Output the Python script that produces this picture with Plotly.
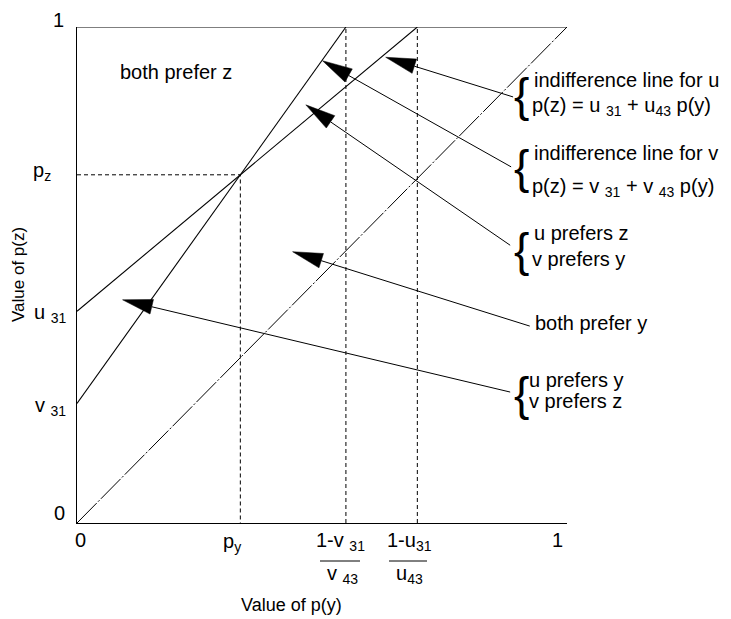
import plotly.graph_objects as go
import math

# Parameters of the two indifference lines
u31, u43 = 0.427, 0.825
v31, v43 = 0.241, 1.383

py = (u31 - v31) / (v43 - u43)
pz = u31 + u43 * py
xu = (1 - u31) / u43
xv = (1 - v31) / v43

# Arrow annotations (head -> tail, data coordinates)
arrow_head_x = [0.630, 0.501, 0.467, 0.440, 0.093]
arrow_head_y = [0.939, 0.932, 0.843, 0.547, 0.450]
arrow_tail_x = [0.890, 0.886, 0.884, 0.924, 0.884]
arrow_tail_y = [0.859, 0.718, 0.560, 0.397, 0.264]

FONT = "Liberation Sans, Arial, Helvetica, sans-serif"
W, H = 490.0, 496.0  # plot area in pixels
ML, MT = 77, 27       # position of the plot area in the window
OFF = 8               # page body margin

def px_to_x(px):
    return (px - ML) / W

def px_to_y(py_):
    return (MT + H - py_) / H

fig = go.Figure()
line_style = dict(color="black", width=1.1)
dash_style = dict(color="black", width=1, dash="4px,3px")

# indifference lines
fig.add_trace(go.Scatter(x=[0, xu], y=[u31, 1], mode="lines", line=line_style))
fig.add_trace(go.Scatter(x=[0, xv], y=[v31, 1], mode="lines", line=line_style))
# diagonal p(z) = p(y)
fig.add_trace(go.Scatter(x=[0, 1], y=[0, 1], mode="lines",
                         line=dict(color="black", width=1, dash="28px,2px,2px,2px")))
# top border
fig.add_trace(go.Scatter(x=[0, 1], y=[1, 1], mode="lines", line=line_style))
# dashed guide lines
fig.add_trace(go.Scatter(x=[0, py, py], y=[pz, pz, 0], mode="lines", line=dash_style))
fig.add_trace(go.Scatter(x=[xv, xv], y=[0, 1], mode="lines", line=dash_style))
fig.add_trace(go.Scatter(x=[xu, xu], y=[0, 1], mode="lines", line=dash_style))

# arrows: line + filled triangular head
L, HW = 30.0, 7.5
for hx, hy, tx, ty in zip(arrow_head_x, arrow_head_y, arrow_tail_x, arrow_tail_y):
    dx = (tx - hx) * W
    dy = -(ty - hy) * H
    n = math.hypot(dx, dy)
    ux, uy = dx / n, dy / n
    bx, by = ux * L, uy * L
    c1 = (bx - uy * HW, by + ux * HW)
    c2 = (bx + uy * HW, by - ux * HW)
    tri_x = [hx, hx + c1[0] / W, hx + c2[0] / W, hx]
    tri_y = [hy, hy - c1[1] / H, hy - c2[1] / H, hy]
    fig.add_trace(go.Scatter(x=tri_x, y=tri_y, mode="lines", fill="toself",
                             fillcolor="black", line=dict(color="black", width=0.5)))
    fig.add_trace(go.Scatter(x=[hx + bx / W, tx], y=[hy - by / H, ty], mode="lines",
                             line=dict(color="black", width=1)))

ann = []
def text(x, y, s, size=20, xanchor="left", yanchor="middle", xshift=0, yshift=0,
         textangle=0):
    ann.append(dict(x=x, y=y, xref="paper", yref="paper", text=s, showarrow=False,
                    xanchor=xanchor, yanchor=yanchor, xshift=xshift, yshift=yshift,
                    textangle=textangle,
                    font=dict(family=FONT, size=size, color="black")))

# region labels
text(px_to_x(118), px_to_y(72), "both prefer z")
text(px_to_x(532), px_to_y(80), "indifference line for u")
text(px_to_x(530), px_to_y(107), "p(z) = u <sub>31</sub> + u<sub>43</sub> p(y)")
text(px_to_x(532), px_to_y(153), "indifference line for v")
text(px_to_x(530), px_to_y(187), "p(z) = v <sub>31</sub> + v <sub>43</sub> p(y)")
text(px_to_x(532), px_to_y(233), "u prefers z")
text(px_to_x(530), px_to_y(259), "v prefers y")
text(px_to_x(533), px_to_y(323), "both prefer y")
text(px_to_x(527), px_to_y(380), "u prefers y")
text(px_to_x(527), px_to_y(401), "v prefers z")
# braces
for yc in [95, 167, 250, 394]:
    text(px_to_x(521), px_to_y(yc), "{", size=46, xanchor="center")

# y tick labels
text(0, 1, "1", xanchor="right", xshift=-11, yshift=7)
text(0, pz, "p<sub>z</sub>", xanchor="right", xshift=-24, yshift=3)
text(0, u31, "u <sub>31</sub>", xanchor="right", xshift=-9, yshift=-2)
text(0, v31, "v <sub>31</sub>", xanchor="right", xshift=-9, yshift=-3)
text(0, 0, "0", xanchor="right", xshift=-10, yshift=10)

# x tick labels
yb = px_to_y(540)
text(0, yb, "0", xanchor="center", xshift=3)
text(py, yb, "p<sub>y</sub>", xanchor="center", xshift=-8, yshift=-2)
text(xv, px_to_y(541), "1-v <sub>31</sub>", xanchor="center", xshift=-5)
text(xv, px_to_y(574), "v <sub>43</sub>", xanchor="center", xshift=-3)
text(xu, px_to_y(541), "1-u<sub>31</sub>", xanchor="center", xshift=-8)
text(xu, px_to_y(574), "u<sub>43</sub>", xanchor="center", xshift=-8)
text(1, yb, "1", xanchor="center", xshift=-10)

# axis titles
text(px_to_x(291), px_to_y(605), "Value of p(y)", size=18, xanchor="center")
text(px_to_x(18), 0.5, "Value of p(z)", size=17, xanchor="center", textangle=-90)

shapes = [
    dict(type="line", xref="paper", yref="paper", x0=px_to_x(320), x1=px_to_x(360),
         y0=px_to_y(561), y1=px_to_y(561), line=dict(color="black", width=1)),
    dict(type="line", xref="paper", yref="paper", x0=px_to_x(389), x1=px_to_x(427),
         y0=px_to_y(561), y1=px_to_y(561), line=dict(color="black", width=1)),
]

fig.update_layout(
    width=731 - OFF, height=619 - OFF,
    margin=dict(l=ML - OFF, r=731 - ML - int(W), t=MT - OFF, b=619 - MT - int(H)),
    plot_bgcolor="white", paper_bgcolor="white",
    showlegend=False,
    annotations=ann, shapes=shapes,
    xaxis=dict(range=[0, 1], showgrid=False, zeroline=False, showticklabels=False,
               showline=True, linecolor="black", linewidth=1, ticks=""),
    yaxis=dict(range=[0, 1], showgrid=False, zeroline=False, showticklabels=False,
               showline=True, linecolor="black", linewidth=1, ticks=""),
)
for tr in fig.data:
    tr.update(hoverinfo="skip", cliponaxis=False)

fig.write_html("out.html")
